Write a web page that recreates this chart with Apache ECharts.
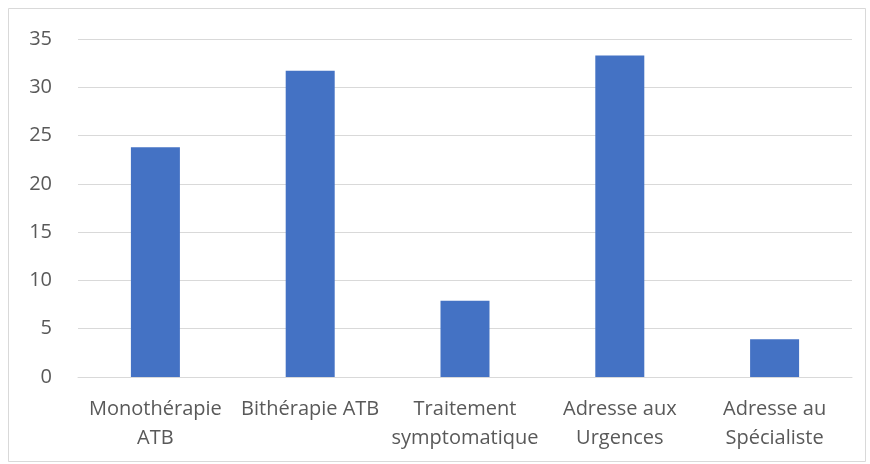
<!DOCTYPE html>
<html><head><meta charset="utf-8">
<script src="https://cdn.jsdelivr.net/npm/echarts@6/dist/echarts.min.js"></script>
<style>html,body{margin:0;padding:0;background:#fff}#c{width:870px;height:464px}</style>
</head><body><div id="c"></div>
<script>
const categories = ["Monothérapie\nATB", "Bithérapie ATB", "Traitement\nsymptomatique", "Adresse aux\nUrgences", "Adresse au\nSpécialiste"];
const values = [23.8, 31.7, 7.9, 33.3, 3.9];
const yTicks = [0, 5, 10, 15, 20, 25, 30, 35];

const chart = echarts.init(document.getElementById('c'), null, {renderer: 'canvas'});
chart.setOption({
  animation: false,
  backgroundColor: '#fff',
  graphic: [{type: 'rect', shape: {x: 8.5, y: 8.5, width: 857, height: 453}, style: {fill: 'none', stroke: '#d9d9d9', lineWidth: 1}, silent: true}],
  grid: {left: 78, right: 18, top: 39, bottom: 87},
  xAxis: {
    type: 'category', data: categories,
    axisLine: {lineStyle: {color: '#d9d9d9'}},
    axisTick: {show: false},
    axisLabel: {color: '#595959', fontSize: 20, fontFamily: 'Open Sans', lineHeight: 29, margin: 18, interval: 0}
  },
  yAxis: {
    type: 'value', min: yTicks[0], max: yTicks[yTicks.length - 1], interval: 5,
    axisLine: {show: false}, axisTick: {show: false},
    splitLine: {lineStyle: {color: '#d9d9d9'}},
    axisLabel: {color: '#595959', fontSize: 20, fontFamily: 'Open Sans', margin: 26}
  },
  series: [{type: 'bar', data: values, barWidth: 49, itemStyle: {color: '#4472C4'}}]
});
</script></body></html>
